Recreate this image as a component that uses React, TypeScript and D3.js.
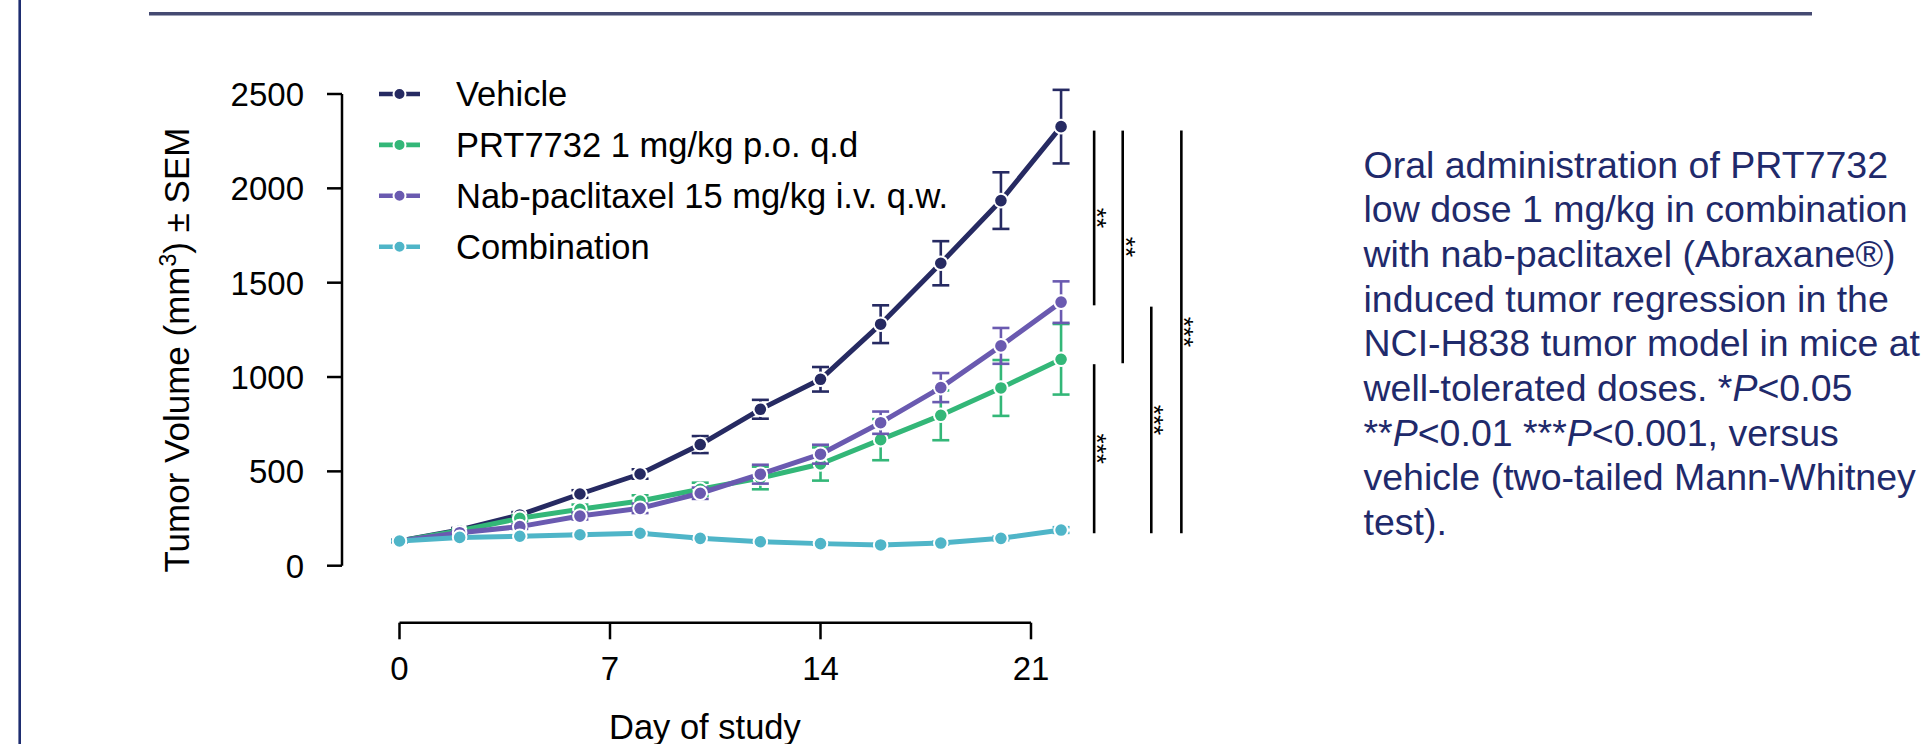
import React from 'react'
import { scaleLinear, line } from 'd3'

const W = 1922
const H = 744
const FONT = '"Liberation Sans", Arial, sans-serif'

// study days and group means / SEM
const days = [0, 2, 4, 6, 8, 10, 12, 14, 16, 18, 20, 22]
const vehicle = [131, 190, 269, 380, 486, 642, 829, 988, 1280, 1603, 1935, 2327]
const vehicleSem = [5, 10, 15, 20, 25, 45, 50, 65, 100, 117, 150, 195]
const prt = [131, 185, 251, 299, 343, 405, 465, 539, 668, 797, 942, 1094]
const prtSem = [5, 8, 15, 25, 30, 35, 60, 88, 109, 132, 148, 187]
const nab = [131, 175, 207, 263, 304, 384, 485, 591, 758, 944, 1165, 1397]
const nabSem = [5, 8, 12, 18, 25, 30, 50, 50, 59, 77, 95, 110]
const combo = [131, 150, 156, 164, 172, 145, 127, 117, 110, 120, 145, 189]
const comboSem = [3, 5, 5, 6, 6, 6, 5, 5, 5, 8, 10, 15]

const seriesNames = ['Vehicle', 'PRT7732 1 mg/kg p.o. q.d', 'Nab-paclitaxel 15 mg/kg i.v. q.w.', 'Combination']
const seriesColors = ['#262a62', '#33b778', '#6a5ab0', '#4fb5c8']
const seriesValues = [vehicle, prt, nab, combo]
const seriesSem = [vehicleSem, prtSem, nabSem, comboSem]

const xTicks = [0, 7, 14, 21]
const yTicks = [0, 500, 1000, 1500, 2000, 2500]

// significance bars: day position, value range, stars
const sigDay = [23.1, 24.05, 25, 26, 23.1]
const sigFrom = [2306, 2306, 1373, 2306, 1068]
const sigTo = [1380, 1073, 172, 172, 172]
const sigStars = ['**', '**', '***', '***', '***']

const noteLines = [
  ['Oral administration of PRT7732'],
  ['low dose 1 mg/kg in combination'],
  ['with nab-paclitaxel (Abraxane®)'],
  ['induced tumor regression in the'],
  ['NCI-H838 tumor model in mice at'],
  ['well-tolerated doses. *', 'P', '<0.05'],
  ['**', 'P', '<0.01 ***', 'P', '<0.001, versus'],
  ['vehicle (two-tailed Mann-Whitney'],
  ['test).'],
]

const x = scaleLinear().domain([0, 21]).range([399.5, 1031])
const y = scaleLinear().domain([0, 2500]).range([565.7, 94])

const pathOf = line<number>()
  .x((_, i) => x(days[i]))
  .y(d => y(d))

export default function App() {
  return (
    <svg width={W} height={H} style={{ position: 'absolute', left: 0, top: 0, display: 'block' }}
      fontFamily={FONT}>
      <rect width={W} height={H} fill="#fff" />
      <line x1={19.7} x2={19.7} y1={0} y2={H} stroke="#1e2d70" strokeWidth={2.6} />
      <line x1={149} x2={1812} y1={13.8} y2={13.8} stroke="#454a72" strokeWidth={3.5} />

      {/* y axis */}
      <g>
        <line x1={342} x2={342} y1={y(2500)} y2={y(0)} stroke="#000" strokeWidth={2.5} />
        {yTicks.map(t => (
          <g key={t}>
            <line x1={327} x2={342} y1={y(t)} y2={y(t)} stroke="#000" strokeWidth={2.5} />
            <text x={304} y={y(t) + 12} textAnchor="end" fontSize={33}>{t}</text>
          </g>
        ))}
        <text transform={`translate(189,350) rotate(-90)`} textAnchor="middle" fontSize={35}>
          Tumor Volume (mm<tspan fontSize={23} dy={-13}>3</tspan><tspan dy={13}>) ± SEM</tspan>
        </text>
      </g>

      {/* x axis */}
      <g>
        <line x1={x(0)} x2={x(21)} y1={622.7} y2={622.7} stroke="#000" strokeWidth={2.5} />
        {xTicks.map(t => (
          <g key={t}>
            <line x1={x(t)} x2={x(t)} y1={622.7} y2={639.3} stroke="#000" strokeWidth={2.5} />
            <text x={x(t)} y={680} textAnchor="middle" fontSize={33}>{t}</text>
          </g>
        ))}
        <text x={609} y={739} fontSize={34.5}>Day of study</text>
      </g>

      {/* series */}
      {seriesValues.map((vals, s) => (
        <g key={s}>
          <path d={pathOf(vals) || ''} fill="none" stroke={seriesColors[s]} strokeWidth={5}
            strokeLinejoin="round" />
          {vals.map((v, i) => {
            const e = seriesSem[s][i]
            const cx = x(days[i])
            return (
              <g key={i} stroke={seriesColors[s]} strokeWidth={2.6}>
                <line x1={cx} x2={cx} y1={y(v + e)} y2={y(v - e)} />
                <line x1={cx - 8.5} x2={cx + 8.5} y1={y(v + e)} y2={y(v + e)} />
                <line x1={cx - 8.5} x2={cx + 8.5} y1={y(v - e)} y2={y(v - e)} />
              </g>
            )
          })}
          {vals.map((v, i) => (
            <circle key={i} cx={x(days[i])} cy={y(v)} r={6.8} fill={seriesColors[s]}
              stroke="#fff" strokeWidth={2} />
          ))}
        </g>
      ))}

      {/* significance */}
      {sigDay.map((d, i) => {
        const lx = x(d)
        const mid = (sigFrom[i] + sigTo[i]) / 2
        return (
          <g key={i}>
            <line x1={lx} x2={lx} y1={y(sigFrom[i])} y2={y(sigTo[i])} stroke="#000" strokeWidth={2.6} />
            <text transform={`translate(${lx + 9},${y(mid)}) rotate(90)`} y={15} textAnchor="middle"
              fontSize={26}>{sigStars[i]}</text>
          </g>
        )
      })}

      {/* legend */}
      {seriesNames.map((n, i) => {
        const ly = 94 + i * 50.9
        return (
          <g key={n}>
            <line x1={379} x2={420} y1={ly} y2={ly} stroke={seriesColors[i]} strokeWidth={4.6} />
            <circle cx={399.5} cy={ly} r={6} fill={seriesColors[i]} stroke="#fff" strokeWidth={2} />
            <text x={456} y={ly + 12} fontSize={34.5}>{n}</text>
          </g>
        )
      })}

      {/* note */}
      <g fill="#1f2a6b" fontSize={37.5}>
        {noteLines.map((parts, i) => (
          <text key={i} x={1363.5} y={177.7 + i * 44.66}>
            {parts.map((p, j) => (
              <tspan key={j} fontStyle={p === 'P' ? 'italic' : 'normal'}>{p}</tspan>
            ))}
          </text>
        ))}
      </g>
    </svg>
  )
}
